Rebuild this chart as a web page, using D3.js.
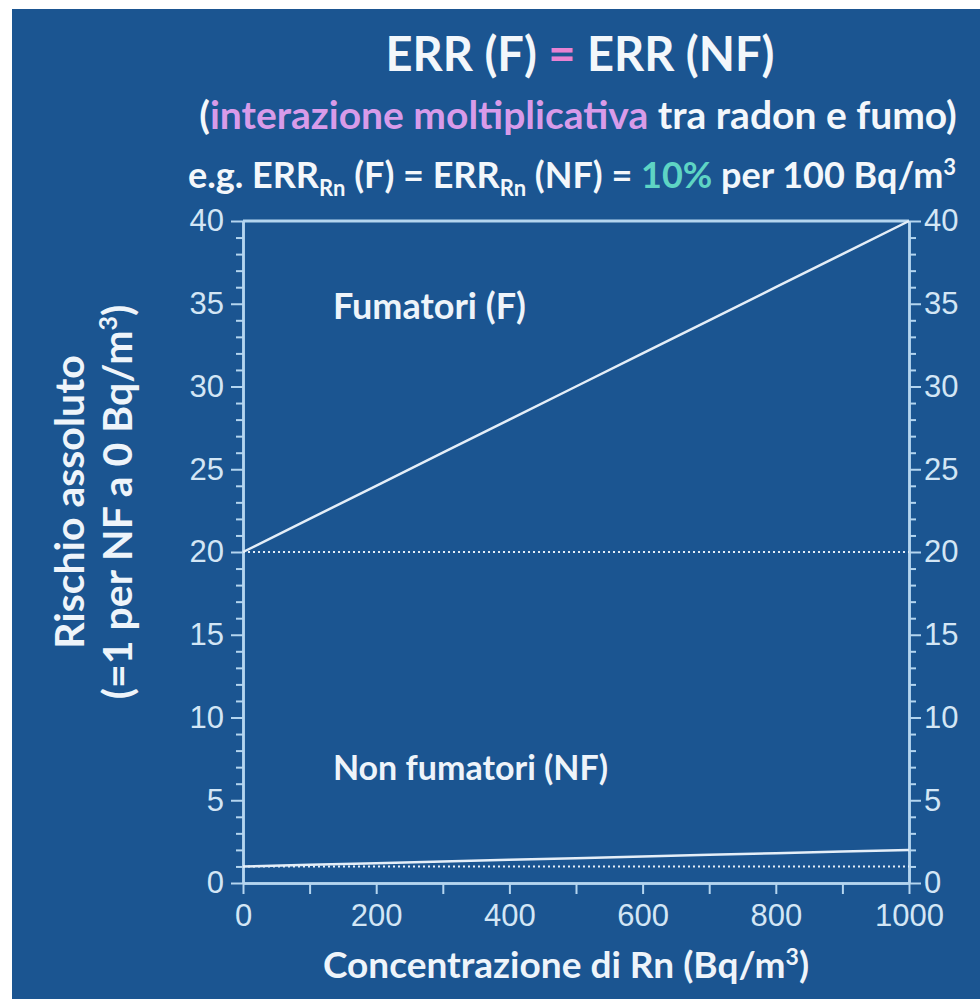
<!DOCTYPE html>
<html>
<head>
<meta charset="utf-8">
<script src="https://cdn.jsdelivr.net/npm/d3@7"></script>
<style>
  body { margin: 0; background: #fff; }
  text { font-family: Lato, "Open Sans", sans-serif; }
  .tick text { font-family: "Liberation Sans", Arial, sans-serif; }
</style>
</head>
<body>
<div id="chart"></div>
<script>
// data
const concentrazione = [0, 100, 200, 300, 400, 500, 600, 700, 800, 900, 1000];
const fumatori = [20, 22, 24, 26, 28, 30, 32, 34, 36, 38, 40];
const nonFumatori = [1, 1.1, 1.2, 1.3, 1.4, 1.5, 1.6, 1.7, 1.8, 1.9, 2];
const baseF = 20, baseNF = 1;
const xTicks = [0, 200, 400, 600, 800, 1000];
const yTicks = [0, 5, 10, 15, 20, 25, 30, 35, 40];

const W = 980, H = 999;
const margin = { top: 221, right: 71, bottom: 116, left: 243 };
const width = W - margin.left - margin.right,
	height = H - margin.top - margin.bottom;

const axisCol = '#b4d5ef', labelCol = '#d3e6f5', lineCol = '#e4eef8', textCol = '#eef4fa';

const svg = d3.select('#chart').append('svg')
	.attr('width', W).attr('height', H);

svg.append('rect').attr('x', 12).attr('y', 9).attr('width', W - 12).attr('height', H - 9)
	.attr('fill', '#1b5591');

const g = svg.append('g').attr('transform', 'translate(' + margin.left + ',' + margin.top + ')');

const x = d3.scaleLinear().domain([0, 1000]).range([0, width]);
const y = d3.scaleLinear().domain([0, 40]).range([height, 0]);

function styleAxis(sel) {
	sel.select('.domain').attr('stroke', axisCol).attr('stroke-width', 2.5);
	sel.selectAll('.tick line').attr('stroke', axisCol).attr('stroke-width', 2);
	sel.selectAll('.tick text').attr('fill', labelCol).style('font-size', '31px');
}

// minor ticks
g.append('g').attr('transform', 'translate(0,' + height + ')')
	.call(d3.axisBottom(x).tickValues(d3.range(100, 1000, 200)).tickSize(11).tickFormat('').tickSizeOuter(0))
	.call(styleAxis);
g.append('g')
	.call(d3.axisLeft(y).tickValues(d3.range(0, 41, 1).filter(d => d % 5)).tickSize(7).tickFormat('').tickSizeOuter(0))
	.call(styleAxis);
g.append('g').attr('transform', 'translate(' + width + ',0)')
	.call(d3.axisRight(y).tickValues(d3.range(0, 41, 1).filter(d => d % 5)).tickSize(7).tickFormat('').tickSizeOuter(0))
	.call(styleAxis);

// major ticks
g.append('g').attr('transform', 'translate(0,' + height + ')')
	.call(d3.axisBottom(x).tickValues(xTicks).tickSize(11).tickPadding(10).tickFormat(d3.format('d')).tickSizeOuter(0))
	.call(styleAxis);
g.append('g')
	.call(d3.axisLeft(y).tickValues(yTicks).tickSize(12).tickPadding(7).tickSizeOuter(0))
	.call(styleAxis);
g.append('g').attr('transform', 'translate(' + width + ',0)')
	.call(d3.axisRight(y).tickValues(yTicks).tickSize(12).tickPadding(3).tickSizeOuter(0))
	.call(styleAxis);

// top frame line
g.append('line').attr('x1', 0).attr('x2', width).attr('y1', y(40)).attr('y2', y(40))
	.attr('stroke', axisCol).attr('stroke-width', 3);

// baselines (dotted)
[baseF, baseNF].forEach(b => {
	g.append('line').attr('x1', x(0)).attr('x2', x(1000)).attr('y1', y(b)).attr('y2', y(b))
		.attr('stroke', lineCol).attr('stroke-width', 2).attr('stroke-dasharray', '2,3');
});

const line = d3.line().x((d, i) => x(concentrazione[i])).y(d => y(d));
[fumatori, nonFumatori].forEach(s => {
	g.append('path').datum(s).attr('d', line)
		.attr('fill', 'none').attr('stroke', lineCol).attr('stroke-width', 2.5);
});

// series labels
g.append('text').attr('x', x(135)).attr('y', y(34.1)).attr('fill', textCol)
	.style('font-size', '36px').style('font-weight', 700).text('Fumatori (F)');
g.append('text').attr('x', x(135)).attr('y', y(6.2)).attr('fill', textCol)
	.style('font-size', '34px').style('font-weight', 700).text('Non fumatori (NF)');

// titles
const t1 = svg.append('text').attr('x', 580).attr('y', 71).attr('text-anchor', 'middle')
	.attr('fill', '#f3f7fb').style('font-size', '47px').style('font-weight', 700);
t1.append('tspan').text('ERR (F) ');
t1.append('tspan').attr('fill', '#e882d2').text('=');
t1.append('tspan').text(' ERR (NF)');

const t2 = svg.append('text').attr('x', 578).attr('y', 129).attr('text-anchor', 'middle')
	.attr('fill', '#f3f7fb').style('font-size', '39px').style('font-weight', 700);
t2.append('tspan').text('(');
t2.append('tspan').attr('fill', '#d89be9').text('interazione moltiplicativa');
t2.append('tspan').text(' tra radon e fumo)');

const t3 = svg.append('text').attr('x', 572).attr('y', 188).attr('text-anchor', 'middle')
	.attr('fill', '#f3f7fb').style('font-size', '36px').style('font-weight', 700);
t3.append('tspan').text('e.g. ERR');
t3.append('tspan').attr('dy', 8).style('font-size', '22px').text('Rn');
t3.append('tspan').attr('dy', -8).text(' (F) = ERR');
t3.append('tspan').attr('dy', 8).style('font-size', '22px').text('Rn');
t3.append('tspan').attr('dy', -8).text(' (NF) = ');
t3.append('tspan').attr('fill', '#5ed4c4').text('10%');
t3.append('tspan').text(' per 100 Bq/m');
t3.append('tspan').attr('dy', -13).style('font-size', '22px').text('3');

// x axis title
const xt = svg.append('text').attr('x', 566).attr('y', 978).attr('text-anchor', 'middle')
	.attr('fill', textCol).style('font-size', '37px').style('font-weight', 700);
xt.append('tspan').text('Concentrazione di Rn (Bq/m');
xt.append('tspan').attr('dy', -13).style('font-size', '23px').text('3');
xt.append('tspan').attr('dy', 13).text(')');

// y axis title
const yt = svg.append('text').attr('transform', 'translate(0,502) rotate(-90)')
	.attr('text-anchor', 'middle').attr('fill', textCol)
	.style('font-size', '41px').style('font-weight', 700);
yt.append('tspan').attr('x', 0).attr('y', 84).text('Rischio assoluto');
const yt2 = svg.append('text').attr('transform', 'translate(0,502) rotate(-90)')
	.attr('text-anchor', 'middle').attr('fill', textCol)
	.style('font-size', '41px').style('font-weight', 700);
yt2.append('tspan').attr('x', 0).attr('y', 132).text('(=1 per NF a 0 Bq/m');
yt2.append('tspan').attr('dy', -15).style('font-size', '25px').text('3');
yt2.append('tspan').attr('dy', 15).text(')');
</script>
</body>
</html>
